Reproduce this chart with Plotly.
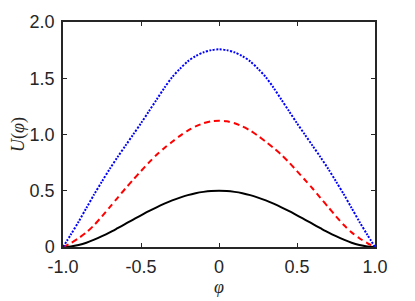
import plotly.graph_objects as go

phi = [-1.0, -0.95, -0.9, -0.85, -0.8, -0.75, -0.7, -0.65, -0.6, -0.55, -0.5,
       -0.45, -0.4, -0.35, -0.3, -0.25, -0.2, -0.15, -0.1, -0.05, 0.0,
       0.05, 0.1, 0.15, 0.2, 0.25, 0.3, 0.35, 0.4, 0.45, 0.5,
       0.55, 0.6, 0.65, 0.7, 0.75, 0.8, 0.85, 0.9, 0.95, 1.0]
u_black = [0.0, 0.005, 0.018, 0.038, 0.065, 0.096, 0.130, 0.167, 0.205, 0.244, 0.281,
           0.318, 0.353, 0.385, 0.414, 0.439, 0.461, 0.478, 0.490, 0.4975, 0.5,
           0.4975, 0.490, 0.478, 0.461, 0.439, 0.414, 0.385, 0.353, 0.318, 0.281,
           0.244, 0.205, 0.167, 0.130, 0.096, 0.065, 0.038, 0.018, 0.005, 0.0]
u_red = [0.0, 0.035, 0.078, 0.13, 0.195, 0.273, 0.355, 0.437, 0.52, 0.598, 0.675,
         0.75, 0.82, 0.88, 0.935, 0.988, 1.035, 1.072, 1.10, 1.117, 1.123,
         1.117, 1.10, 1.072, 1.035, 0.988, 0.935, 0.88, 0.82, 0.75, 0.675,
         0.598, 0.52, 0.437, 0.355, 0.273, 0.195, 0.13, 0.078, 0.035, 0.0]
u_blue = [0.0, 0.11, 0.225, 0.347, 0.468, 0.583, 0.695, 0.80, 0.90, 1.0, 1.10,
          1.205, 1.31, 1.415, 1.51, 1.585, 1.65, 1.697, 1.73, 1.75, 1.757,
          1.75, 1.73, 1.697, 1.65, 1.585, 1.51, 1.415, 1.31, 1.205, 1.10,
          1.0, 0.90, 0.80, 0.695, 0.583, 0.468, 0.347, 0.225, 0.11, 0.0]

x_ticks = [-1.0, -0.5, 0.0, 0.5, 1.0]
x_ticklabels = ["-1.0", "-0.5", "0", "0.5", "1.0"]
y_ticks = [0.0, 0.5, 1.0, 1.5, 2.0]
y_ticklabels = ["0", "0.5", "1.0", "1.5", "2.0"]

axcol = "#262626"
fig = go.Figure()
fig.add_trace(go.Scatter(x=phi, y=u_black, mode="lines",
                         line=dict(color="black", width=2, shape="spline", smoothing=0.8)))
fig.add_trace(go.Scatter(x=phi, y=u_red, mode="lines",
                         line=dict(color="red", width=2, dash="6px,4px", shape="spline", smoothing=0.8)))
fig.add_trace(go.Scatter(x=phi, y=u_blue, mode="lines",
                         line=dict(color="blue", width=2, dash="2px,1.5px", shape="spline", smoothing=0.8)))

axis_common = dict(showgrid=False, zeroline=False, showline=True, linecolor=axcol, linewidth=1.5,
                   mirror="ticks", ticks="inside", ticklen=4, tickwidth=1.2, tickcolor=axcol,
                   automargin=False, ticklabelstandoff=3,
                   tickfont=dict(family="Liberation Sans, Arial", size=18, color=axcol))
fig.update_layout(
    width=407, height=293, showlegend=False,
    margin=dict(l=55, r=40, t=14, b=54),
    plot_bgcolor="white", paper_bgcolor="white",
    xaxis=dict(range=[-1, 1], tickvals=x_ticks, ticktext=x_ticklabels,
               title=dict(text="<i>φ</i>", standoff=2,
                          font=dict(family="Liberation Serif", size=18, color=axcol)),
               **axis_common),
    yaxis=dict(range=[0, 2], tickvals=y_ticks, ticktext=y_ticklabels,
               title=dict(text="<i>U</i>(<i>φ</i>)", standoff=4,
                          font=dict(family="Liberation Serif", size=18, color=axcol)),
               **axis_common),
)
fig.write_html("out.html")
